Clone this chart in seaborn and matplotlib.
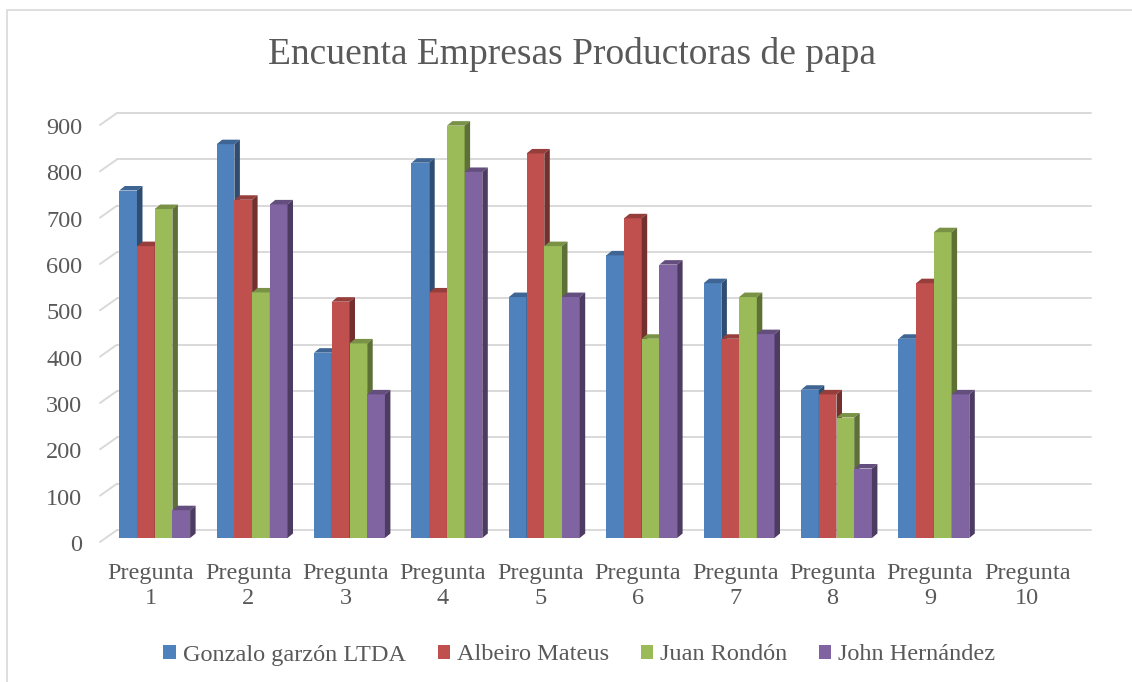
import numpy as np
import pandas as pd
import matplotlib
matplotlib.use("Agg")
import matplotlib.pyplot as plt
import matplotlib.colors as mcolors
from matplotlib.patches import Polygon, Rectangle
from matplotlib.transforms import ScaledTranslation
import seaborn as sns

# ---------------- data ----------------
categories = ["Pregunta 1", "Pregunta 2", "Pregunta 3", "Pregunta 4", "Pregunta 5",
              "Pregunta 6", "Pregunta 7", "Pregunta 8", "Pregunta 9", "Pregunta 10"]
series = ["Gonzalo garzón LTDA", "Albeiro Mateus", "Juan Rondón", "John Hernández"]
gonzalo = [750, 850, 400, 810, 520, 610, 550, 320, 430, np.nan]
albeiro = [630, 730, 510, 530, 830, 690, 430, 310, 550, np.nan]
juan = [710, 530, 420, 890, 630, 430, 520, 260, 660, np.nan]
john = [60, 720, 310, 790, 520, 590, 440, 150, 310, np.nan]
yticks = [0, 100, 200, 300, 400, 500, 600, 700, 800, 900]
title = "Encuenta Empresas Productoras de papa"

colors = ["#4F81BD", "#C0504D", "#9BBB59", "#8064A2"]
text_color = "#595959"
grid_color = "#D9D9D9"

frames = []
for name, vals in zip(series, [gonzalo, albeiro, juan, john]):
    frames.append(pd.DataFrame({"Pregunta": categories, "Serie": name, "Valor": vals}))
df = pd.concat(frames, ignore_index=True).dropna()

# ---------------- figure ----------------
sns.set_theme(style="white")
plt.rcParams["font.family"] = ["Liberation Serif", "DejaVu Serif"]

W, H = 1132, 682
fig = plt.figure(figsize=(W / 100, H / 100), dpi=100)
fig.patch.set_facecolor("white")
ax = fig.add_axes([106 / W, 1 - 538 / H, (1080 - 106) / W, (538 - 121) / H])
ax.set_facecolor("none")

sns.barplot(data=df, x="Pregunta", y="Valor", hue="Serie", order=categories,
            hue_order=series, palette=colors, saturation=1, width=0.727,
            linewidth=0, errorbar=None, ax=ax)

ax.set_xlim(-0.5, 9.5)
ax.set_ylim(0, 900)
for s in ax.spines.values():
    s.set_visible(False)
ax.set_xlabel("")
ax.set_ylabel("")

xs = ax.bbox.width / 10.0     # px per category unit
ys = ax.bbox.height / 900.0   # px per value unit

# 3D faces of bars
ddx, ddy = 5.5 / xs, 4.5 / ys
for k, cont in enumerate(ax.containers):
    base = np.array(mcolors.to_rgb(colors[k]))
    top_c = base * 0.78
    side_c = base * 0.6
    for bar in cont:
        h = bar.get_height()
        if not np.isfinite(h):
            continue
        bar.set_zorder(3 + k)
        x0, w = bar.get_x(), bar.get_width()
        top = Polygon([(x0, h), (x0 + w, h), (x0 + w + ddx, h + ddy), (x0 + ddx, h + ddy)],
                      closed=True, fc=top_c, lw=0, zorder=3 + k + 0.5, clip_on=False)
        side = Polygon([(x0 + w, 0), (x0 + w, h), (x0 + w + ddx, h + ddy), (x0 + w + ddx, ddy)],
                       closed=True, fc=side_c, lw=0, zorder=3 + k + 0.5, clip_on=False)
        ax.add_patch(top)
        ax.add_patch(side)

# back wall grid + side wall diagonals
for v in yticks:
    ax.plot([-0.5 - 6 / xs, -0.5 + 11 / xs], [v - 4 / ys, v + 8 / ys],
            color=grid_color, lw=1.4, clip_on=False, zorder=1)
    ax.plot([-0.5 + 11 / xs, 9.5 + 11 / xs], [v + 8 / ys, v + 8 / ys],
            color=grid_color, lw=1.4, clip_on=False, zorder=1)

# ticks
ax.set_yticks(yticks)
ax.set_yticklabels([str(t) for t in yticks])
ax.set_xticks(range(len(categories)))
ax.set_xticklabels([c.replace(" ", "\n") for c in categories], linespacing=1.22)
ax.tick_params(axis="y", length=0, pad=17, labelsize=17.5, labelcolor=text_color)
ax.tick_params(axis="x", length=0, pad=18, labelsize=17.5, labelcolor=text_color)
for lab in ax.get_yticklabels():
    lab.set_transform(lab.get_transform() + ScaledTranslation(0, -5 / 100, fig.dpi_scale_trans))
for lab in ax.get_xticklabels():
    lab.set_transform(lab.get_transform() + ScaledTranslation(-4 / 100, 0, fig.dpi_scale_trans))

# title
fig.text(572 / W, 1 - 55 / H, title, ha="center", va="center", fontsize=27, color=text_color)

# legend
handles, labels = ax.get_legend_handles_labels()
if ax.get_legend() is not None:
    ax.get_legend().remove()
fig.legend(handles, labels, loc="center", bbox_to_anchor=(579.5 / W, 1 - 655 / H),
           ncol=4, frameon=False, fontsize=17.5, handlelength=0.5, handleheight=0.5,
           handletextpad=0.3, columnspacing=1.3, labelcolor=text_color)

# chart border
fig.patches.append(Rectangle((7 / W, -0.1), 1.2, (1 - 10 / H) + 0.1, transform=fig.transFigure,
                             fill=False, ec=grid_color, lw=1.2))

fig.savefig("out.png", dpi=100)
